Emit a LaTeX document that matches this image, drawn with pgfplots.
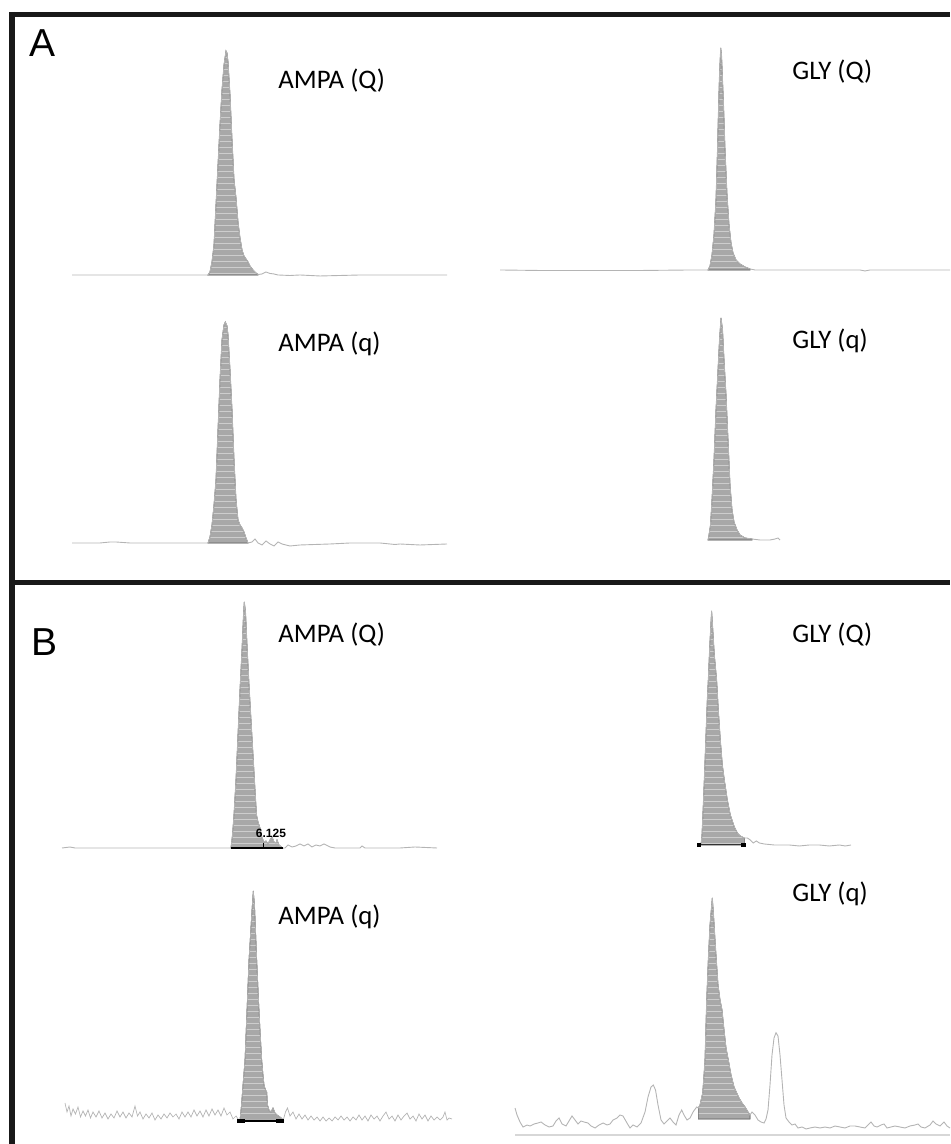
\documentclass[border=0pt]{standalone}
\usepackage{fontspec}
\setmainfont{Carlito}
\newfontfamily\arialfont{Liberation Sans}
\usepackage{pgfplots}
\usepackage{pgfplotstable}
\usetikzlibrary{patterns}
\pgfplotsset{compat=1.18}
\definecolor{trace}{RGB}{180,180,180}
\definecolor{peakfill}{RGB}{168,168,168}
\definecolor{peakline}{RGB}{125,125,125}
\definecolor{stripe}{RGB}{205,205,205}
\definecolor{axisgray}{RGB}{215,215,215}
\pgfplotsset{chrom/.style={hide axis, clip=false, enlargelimits=false,
  x=0.5pt, y=0.5pt, anchor=south west, ymin=0, ymax=240},
  tr/.style={color=trace, line width=0.45pt, mark=none},
  pk/.style={fill=peakfill, draw=peakline, line width=0.3pt, mark=none,
    postaction={pattern=horizontal lines, pattern color=stripe}}}

% ---- A: AMPA (Q), baseline 275
\pgfplotstableread{
x y
72 275
150 275
200 275
206 275
208 275
210 272
212 262
214 245
216 205
218 165
220 125
222 90
224 65
226 51
227 53
228 62
230 95
232 140
234 180
236 198
238 222
240 238
242 250
244 256
246 259
248 262
250 266
253 270
256 273
258 274.5
262 274
266 272
270 273.5
274 274
278 275
290 275.5
300 275
320 276
340 275.5
360 275
447 275
}\tAAQ
% ---- A: GLY (Q), baseline 270
\pgfplotstableread{
x y
500 270
540 270.5
560 270.5
640 270.5
690 270
706 270
708 270
710 266
712 255
714 235
716 200
717.5 150
718.5 110
719.5 75
720.7 48
721.5 55
722.5 80
723.5 105
725 150
727 195
729 225
731 243
733 253
736 260
740 264
745 267
750 269
755 270
800 270
860 270
865 271
870 270
950 270
}\tAGQ
% ---- A: AMPA (q), baseline 543
\pgfplotstableread{
x y
72 543
100 543
110 542
116 542
130 543
200 543
208 543
210 537
212 525
214 505
216 480
218 430
220 380
222 340
224 325
225.3 322
227 326
228 335
230 370
232 410
234 460
236 500
238 520
240 525
242 528
244 532
246 538
248 543
252 542
255 539
258 543
262 545
266 541
270 544
274 546
278 542
282 544
290 546
300 545
330 544
350 543
380 543
395 544.5
400 544
420 545
447 544
}\tAAq
% ---- A: GLY (q), baseline 540
\pgfplotstableread{
x y
708 540
709 535
710.5 525
712 500
714 460
716 410
718 370
719.5 340
721 318
722.5 330
724 360
726 395
728 440
730 485
732 510
734 522
737 530
740 535
745 538
752 539
760 540
770 540
775 539
778 538
780 540
}\tAGq
% ---- B: AMPA (Q), baseline 848
\pgfplotstableread{
x y
62 848
70 847
75 848
150 848
231 848
232.5 835
234 815
236 780
238 735
240 690
242 650
243.5 615
244.3 602
245.5 612
247 645
249 685
251 720
253 755
255 790
256.5 815
258 822
260 828
262 838
264 842
266 841
268 844
270 840
272 837
274 842
276 843
277 840
279 845
282.7 848
285 848
288 845
292 847
296 846
300 844
304 846
308 844
312 847
316 845
320 846
324 844
330 847
335 848
360 848
362 846
365 848
400 848
415 847
437 848
}\tBAQ
% ---- B: GLY (Q), baseline 845
\pgfplotstableread{
x y
701.7 845
702.7 835
704 805
705 780
706.5 740
708 700
709 680
710.5 645
712.3 611
713.5 630
715 655
717.3 680
719 710
721 740
723 765
725 780
728 800
731 815
735 827
738 833
741 836
745 838
748 838
751 840
754 843
757 841
760 843
765 844
775 845
790 845
800 846
810 845
820 845
830 846
840 845
846 846
851.7 845
}\tBGQ
% ---- B: AMPA (q), baseline 1120
\pgfplotstableread{
x y
65 1103
67 1112
69 1106
71 1116
73 1109
75.5 1114
78 1107
80.5 1117
83 1111
85.5 1116
88 1110
90.5 1118
93 1112
96 1117
99 1111
102 1118
105 1113
108 1119
111 1114
114 1118
117 1111
120 1117
123 1112
126 1118
129 1113
132 1117
135 1106
137.5 1116
140 1112
143 1119
146 1114
149 1118
152 1113
155 1120
158 1115
161 1119
164 1114
167 1118
170 1113
173 1117
176 1114
179 1119
182 1112
185 1117
188 1112
191 1117
194 1110
197 1116
200 1111
203 1117
206 1110
209 1116
212 1109
215 1115
218 1110
221 1116
224 1108
227 1115
230 1112
233 1119
236 1116
238 1119
240 1120
241.5 1105
243 1085
245 1060
247 1010
249 960
250.5 935
252 910
253.3 891
254.5 905
255.5 930
256.7 960
258.5 1000
260 1030
261.7 1060
263 1075
264 1085
265.5 1090
266.7 1092
267.5 1105
269 1110
271 1112
273 1108
275 1113
277 1115
280 1117
283.3 1120
285.5 1112
287.5 1108
290 1116
293 1112
296 1119
299 1114
302 1119
305 1115
308 1120
311 1116
314 1120
317 1117
320 1121
323 1117
326 1121
329 1118
332 1121
335 1117
338 1120
341 1116
344 1120
347 1117
350 1121
353 1117
356 1120
359 1115
362 1120
365 1116
368 1121
371 1115
374 1119
377 1116
380 1121
383 1116
386 1112
389 1119
392 1116
395 1121
398 1115
401 1120
404 1116
407 1113
410 1119
413 1116
416 1121
419 1114
422 1119
425 1115
428 1121
431 1116
434 1120
437 1117
440 1120
443 1117
445 1112
447 1120
449 1118
452 1119
}\tBAq
% ---- B: GLY (q), fill bottom 1119
\pgfplotstableread{
x y
515 1108
517 1115
520 1122
523 1127
527 1125
530 1126
534 1124
538 1123
541 1122
545 1125
549 1127
553 1126
556 1121
559 1118
562 1124
566 1126
569 1121
572 1116
575 1120
578 1124
581 1121
584 1122
588 1123
591 1126
595 1128
599 1125
603 1123
607 1125
610 1124
613 1120
617 1118
620 1115
623 1116
627 1123
630 1128
633 1125
637 1127
641 1123
645 1112
648 1097
651 1087
653.3 1085
655.5 1090
658 1105
661 1120
664 1124
667 1121
670 1118
673 1122
676 1125
679 1115
681.7 1110
684 1115
687 1120
690 1118
693 1112
696.7 1107
698.3 1108
700 1105
702.7 1093
704 1075
705 1060
706.7 1000
708.3 960
710 925
712.3 898
713.5 915
715 940
716.3 960
718 985
720 1000
722 1010
724 1030
726 1048
728.3 1060
731 1075
734 1087
736.7 1093
739 1098
742 1103
745 1107
748 1112
750 1115
752 1112
755 1115
758 1120
761 1122
764 1123
766 1119
768 1110
770 1085
772 1055
774 1038
776 1032.7
778 1036
780 1055
782 1080
784 1105
786 1118
789 1122
792 1125
795 1124
798 1128
802 1127
806 1129
810 1128
815 1127
820 1128
825 1127
830 1128
835 1126
840 1127
845 1128
850 1126
855 1126
860 1127
865 1128
868 1125
871 1122
874 1126
877 1127
881 1125
884 1124
887 1128
891 1127
895 1126
900 1127
905 1128
910 1126
915 1125
918 1124
921 1127
925 1128
930 1125
933 1121
936 1124
940 1126
944 1122
947 1126
950 1128
}\tBGq

\begin{document}
\begin{tikzpicture}
\path[use as bounding box] (0,0) rectangle (475pt,572pt);

% ===== Panel A =====
\begin{axis}[chrom, at={(36pt,434.5pt)}, xmin=72, xmax=447]
\addplot[pk, restrict x to domain=208:258] table[y expr=275-\thisrow{y}] {\tAAQ} \closedcycle;
\addplot[tr] table[y expr=275-\thisrow{y}] {\tAAQ};
\end{axis}

\begin{axis}[chrom, at={(250pt,437pt)}, xmin=500, xmax=950]
\addplot[pk, restrict x to domain=708:750] table[y expr=270-\thisrow{y}] {\tAGQ} \closedcycle;
\addplot[tr] table[y expr=270-\thisrow{y}] {\tAGQ};
\end{axis}

\begin{axis}[chrom, at={(36pt,300.5pt)}, xmin=72, xmax=447]
\addplot[pk, restrict x to domain=208:248] table[y expr=543-\thisrow{y}] {\tAAq} \closedcycle;
\addplot[tr] table[y expr=543-\thisrow{y}] {\tAAq};
\end{axis}

\begin{axis}[chrom, at={(354pt,302pt)}, xmin=708, xmax=780]
\addplot[pk, restrict x to domain=708:752] table[y expr=540-\thisrow{y}] {\tAGq} \closedcycle;
\addplot[tr] table[y expr=540-\thisrow{y}] {\tAGq};
\end{axis}

% ===== Panel B =====
\begin{axis}[chrom, at={(31pt,148pt)}, xmin=62, xmax=437]
\addplot[pk, restrict x to domain=231:282.7] table[y expr=848-\thisrow{y}] {\tBAQ} \closedcycle;
\addplot[tr] table[y expr=848-\thisrow{y}] {\tBAQ};
\addplot[black, line width=1.1pt] coordinates {(231,0) (283,0)};
\addplot[black, line width=0.6pt] coordinates {(263.3,0) (263.3,5)};
\end{axis}

\begin{axis}[chrom, at={(350.5pt,149.5pt)}, xmin=701.7, xmax=851.7]
\addplot[pk, restrict x to domain=701.7:745] table[y expr=845-\thisrow{y}] {\tBGQ} \closedcycle;
\addplot[tr] table[y expr=845-\thisrow{y}] {\tBGQ};
\addplot[black!80, line width=0.5pt] coordinates {(698,0) (747,0)};
\addplot[black, line width=1.6pt] coordinates {(698,0) (702,0)};
\addplot[black, line width=1.6pt] coordinates {(742,0) (747,0)};
\end{axis}

\begin{axis}[chrom, at={(32.5pt,12pt)}, xmin=65, xmax=452]
\addplot[pk, restrict x to domain=240:283.3] table[y expr=1120-\thisrow{y}] {\tBAq} \closedcycle;
\addplot[tr, line width=0.35pt] table[y expr=1120-\thisrow{y}] {\tBAq};
\addplot[black, line width=0.9pt] coordinates {(237,-1) (284,-1)};
\addplot[black, line width=2pt] coordinates {(237,-1) (245,-1)};
\addplot[black, line width=2pt] coordinates {(276,-1) (284,-1)};
\end{axis}

\begin{axis}[chrom, at={(257.5pt,12.5pt)}, xmin=515, xmax=950]
\addplot[axisgray, line width=1.3pt] coordinates {(515,-16) (950,-16)};
\addplot[pk, restrict x to domain=698.3:750] table[y expr=1119-\thisrow{y}] {\tBGq} \closedcycle;
\addplot[tr] table[y expr=1119-\thisrow{y}] {\tBGq};
\end{axis}

% ===== frame =====
\draw[line width=2.8pt, black!90] (4.6pt,564.75pt) -- (475pt,564.75pt);
\draw[line width=2.8pt, black!90] (6pt,566pt) -- (6pt,0pt);
\draw[line width=2.6pt, black!90] (6pt,280.75pt) -- (475pt,280.75pt);

% ===== labels =====
\begin{scope}[every node/.style={anchor=base west, inner sep=0pt}]
\node[font=\arialfont\fontsize{19.5}{20}\selectfont] at (14.5pt,543.5pt) {A};
\node[font=\arialfont\fontsize{19.5}{20}\selectfont] at (15.5pt,244pt) {B};
\node[font=\fontsize{13.4}{14}\selectfont] at (139pt,527.5pt) {AMPA (Q)};
\node[font=\fontsize{13.4}{14}\selectfont] at (396pt,532pt) {GLY (Q)};
\node[font=\fontsize{13.4}{14}\selectfont] at (139pt,396pt) {AMPA (q)};
\node[font=\fontsize{13.4}{14}\selectfont] at (396pt,397.5pt) {GLY (q)};
\node[font=\fontsize{13.4}{14}\selectfont] at (139pt,250.5pt) {AMPA (Q)};
\node[font=\fontsize{13.4}{14}\selectfont] at (396pt,250.5pt) {GLY (Q)};
\node[font=\fontsize{13.4}{14}\selectfont] at (139pt,109.5pt) {AMPA (q)};
\node[font=\fontsize{13.4}{14}\selectfont] at (396pt,121pt) {GLY (q)};
\end{scope}
\node[font=\arialfont\bfseries\fontsize{6}{7}\selectfont, inner sep=0pt] at (135.5pt,155.5pt) {6.125};
\end{tikzpicture}
\end{document}
